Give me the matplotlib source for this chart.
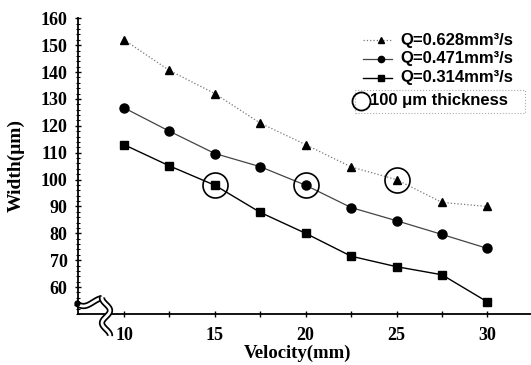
import numpy as np
import matplotlib
matplotlib.use("Agg")
import matplotlib.pyplot as plt
from matplotlib.lines import Line2D
from matplotlib.patches import Rectangle

velocity = [10, 12.5, 15, 17.5, 20, 22.5, 25, 27.5, 30]
w_0628 = [152, 140.6, 132, 121, 113, 104.7, 100, 91.5, 90]
w_0471 = [126.7, 118, 109.7, 104.8, 97.9, 89.6, 84.7, 79.6, 74.4]
w_0314 = [113, 105.1, 97.9, 87.8, 80, 71.5, 67.6, 64.6, 54.5]
thick_x = [15, 20, 25]
thick_y = [97.9, 97.9, 100]
labels = ["Q=0.628mm\u00b3/s", "Q=0.471mm\u00b3/s", "Q=0.314mm\u00b3/s", "100 \u03bcm thickness"]
yticks = [60, 70, 80, 90, 100, 110, 120, 130, 140, 150, 160]
xticks = [10, 15, 20, 25, 30]

W, H = 531, 365
fig = plt.figure(figsize=(W / 100, H / 100), dpi=100)
ax = fig.add_axes([78 / W, (H - 314) / H, 453 / W, (314 - 18.3) / H])

serif = ["Liberation Serif", "DejaVu Serif"]
sans = ["Liberation Sans", "DejaVu Sans"]

styles = [
    dict(linestyle=":", color="#777777", lw=0.9, marker="^", ms=6, mfc="black", mec="black"),
    dict(linestyle="-", color="#444444", lw=0.9, marker="o", ms=6.5, mfc="black", mec="black"),
    dict(linestyle="-", color="black", lw=1.0, marker="s", ms=6, mfc="black", mec="black"),
]
for series, st in zip([w_0628, w_0471, w_0314], styles):
    ax.plot(velocity, series, **st)
ax.plot(thick_x, thick_y, linestyle="none", marker="o", ms=18,
        mfc="none", mec="black", mew=1.2)

ax.set_xlim(7.47, 32.4)
ax.set_ylim(50, 160)
ax.spines["top"].set_visible(False)
ax.spines["right"].set_visible(False)
ax.spines["left"].set_linewidth(1.3)
ax.spines["bottom"].set_linewidth(1.3)

ax.set_yticks(yticks)
ax.set_yticks(np.arange(50, 161, 2), minor=True)
ax.set_xticks(xticks)
ax.set_xticks([12.5, 17.5, 22.5, 27.5], minor=True)
ax.set_yticklabels([str(v) for v in yticks], fontfamily=serif, fontweight="bold", fontsize=13)
ax.set_xticklabels([str(v) for v in xticks], fontfamily=serif, fontweight="bold", fontsize=13)
ax.tick_params(axis="y", which="major", direction="inout", length=5, width=1, pad=5)
ax.tick_params(axis="y", which="minor", direction="inout", length=2.5, width=0.8)
ax.tick_params(axis="x", which="major", direction="inout", length=4, width=1, pad=7)
ax.tick_params(axis="x", which="minor", direction="inout", length=4, width=1)

ax.set_xlabel("Velocity(mm)", fontfamily=serif, fontweight="bold", fontsize=13.5)
ax.xaxis.set_label_coords((298 - 78) / 453, -(345 - 314) / (314 - 18.3))
ax.xaxis.label.set_va("top")
ax.set_ylabel("Width(\u03bcm)", fontfamily=serif, fontweight="bold", fontsize=14)
ax.yaxis.set_label_coords(-(78 - 25) / 453, (314 - 165) / (314 - 18.3))


def px(xs, ys):
    return np.asarray(xs, dtype=float) / W, 1 - np.asarray(ys, dtype=float) / H


# manual legend
row_y = [40, 58.5, 77.5]
for yy, st, lab in zip(row_y, styles, labels[:3]):
    X, Y = px([363, 392], [yy, yy])
    fig.add_artist(Line2D(X, Y, linestyle=st["linestyle"], color=st["color"], lw=st["lw"]))
    X, Y = px([381], [yy])
    fig.add_artist(Line2D(X, Y, linestyle="none", marker=st["marker"], ms=4.5,
                          mfc="black", mec="black"))
    tx, ty = px(400, yy)
    fig.text(tx, ty, lab, ha="left", va="center", fontfamily=sans, fontweight="bold",
             fontsize=12)
X, Y = px([361], [101])
fig.add_artist(Line2D(X, Y, linestyle="none", marker="o", ms=13, mfc="none", mec="black", mew=1.3))
tx, ty = px(370, 101)
fig.text(tx, ty, labels[3], ha="left", va="center", fontfamily=sans, fontweight="bold",
         fontsize=12)
bx, by = px(355, 113)
fig.patches.append(Rectangle((bx, by), 170 / W, 23 / H, transform=fig.transFigure,
                             fill=False, ec="#aaaaaa", ls=":", lw=0.8))

# axis break symbols (double lines)
t = np.linspace(0, 1, 50)
hx = 76 + 26 * t
hy = 303 - 5 * t + 8 * np.sin(np.pi * t) * (1 - t)
vy = np.linspace(297, 336, 80)
vx = 106 - 4 * np.cos(2 * np.pi * (vy - 298) / 25)
for xs, ys in [(hx, hy), (vx, vy)]:
    X, Y = px(xs, ys)
    fig.add_artist(Line2D(X, Y, color="black", lw=4.5, solid_capstyle="butt"))
    fig.add_artist(Line2D(X, Y, color="white", lw=2.0, solid_capstyle="butt"))
X, Y = px([77], [302.5])
fig.add_artist(Line2D(X, Y, linestyle="none", marker="o", ms=3.5, mfc="black", mec="black"))

fig.savefig("out.png", dpi=100)
